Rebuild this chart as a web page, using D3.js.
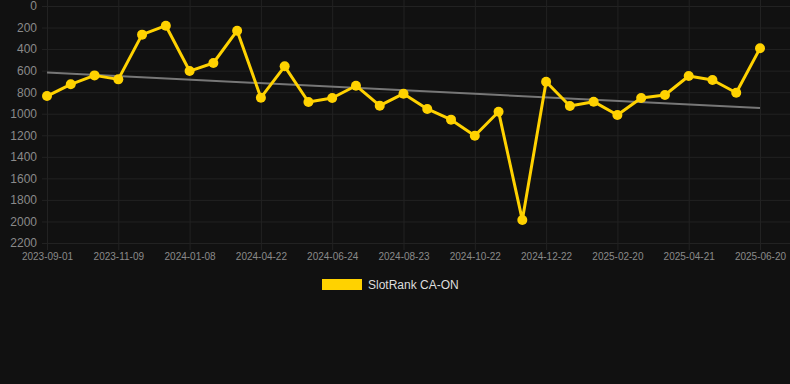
<!DOCTYPE html>
<html>
<head>
<meta charset="utf-8">
<script src="https://cdn.jsdelivr.net/npm/d3@7"></script>
<style>
	html, body { margin: 0; padding: 0; background: #111111; }
	svg { display: block; font-family: "Liberation Sans", Arial, sans-serif; }
</style>
</head>
<body>
<div id="chart"></div>
<script>
// dates of each observation (only every third one is labelled on the axis)
var dates = [
	"2023-09-01", "2023-09-24", "2023-10-17", "2023-11-09", "2023-11-29", "2023-12-19",
	"2024-01-08", "2024-02-11", "2024-03-17", "2024-04-22", "2024-05-13", "2024-06-03",
	"2024-06-24", "2024-07-14", "2024-08-03", "2024-08-23", "2024-09-12", "2024-10-02",
	"2024-10-22", "2024-11-11", "2024-12-01", "2024-12-22", "2025-01-11", "2025-01-31",
	"2025-02-20", "2025-03-12", "2025-04-01", "2025-04-21", "2025-05-11", "2025-05-31",
	"2025-06-20"
];
// rank values (lower is better, axis is reversed)
var ranks = [
	836, 727, 644, 681, 266, 183, 604, 529, 229, 851, 560, 891, 854, 740, 925, 814,
	956, 1055, 1204, 981, 1987, 703, 928, 888, 1012, 854, 826, 650, 687, 805, 393
];
var yTicks = [0, 200, 400, 600, 800, 1000, 1200, 1400, 1600, 1800, 2000, 2200];
var seriesName = "SlotRank CA-ON";

var W = 790, H = 384;
var svg = d3.select("#chart").append("svg")
	.attr("width", W)
	.attr("height", H);

var x = d3.scalePoint()
	.domain(dates)
	.range([47, 760]);
var y = d3.scaleLinear()
	.domain([0, 2200])
	.range([6, 243]);

// grid
var grid = svg.append("g");
grid.selectAll("line.h")
	.data(yTicks)
	.enter().append("line")
	.attr("x1", 42).attr("x2", W)
	.attr("y1", function(d) { return y(d) + 0.5; })
	.attr("y2", function(d) { return y(d) + 0.5; })
	.attr("stroke", "#222")
	.attr("stroke-width", 1);

var labelled = dates.filter(function(d, i) { return i % 3 == 0; });
grid.selectAll("line.v")
	.data(labelled)
	.enter().append("line")
	.attr("x1", function(d) { return x(d) + 0.5; })
	.attr("x2", function(d) { return x(d) + 0.5; })
	.attr("y1", 0).attr("y2", 250)
	.attr("stroke", "#222")
	.attr("stroke-width", 1);

// y axis labels
var yAxis = svg.append("g")
	.attr("transform", "translate(37,0)")
	.call(d3.axisLeft(y).tickValues(yTicks).tickFormat(d3.format("d")).tickSize(0).tickPadding(0));
yAxis.select(".domain").remove();
yAxis.selectAll("text")
	.attr("fill", "#8a8a8a")
	.style("font-size", "12px")
	.style("font-family", "Liberation Sans, Arial, sans-serif");

// x axis labels
var xAxis = svg.append("g")
	.attr("transform", "translate(0,253)")
	.call(d3.axisBottom(x).tickValues(labelled).tickSize(0).tickPadding(0));
xAxis.select(".domain").remove();
xAxis.selectAll("text")
	.attr("fill", "#8a8a8a")
	.style("font-size", "10px")
	.style("font-family", "Liberation Sans, Arial, sans-serif");

// linear trend of ranks over index
var n = ranks.length;
var mx = d3.mean(d3.range(n)), my = d3.mean(ranks);
var sxy = d3.sum(ranks, function(v, i) { return (i - mx) * (v - my); });
var sxx = d3.sum(d3.range(n), function(i) { return (i - mx) * (i - mx); });
var slope = sxy / sxx, icpt = my - slope * mx;

svg.append("line")
	.attr("x1", x(dates[0]))
	.attr("y1", y(icpt))
	.attr("x2", x(dates[n - 1]))
	.attr("y2", y(icpt + slope * (n - 1)))
	.attr("stroke", "#777")
	.attr("stroke-width", 2);

// series line
var line = d3.line()
	.x(function(d, i) { return x(dates[i]); })
	.y(function(d) { return y(d); });

svg.append("path")
	.datum(ranks)
	.attr("d", line)
	.attr("fill", "none")
	.attr("stroke", "#FFD200")
	.attr("stroke-width", 3)
	.attr("stroke-linejoin", "round");

svg.selectAll("circle.pt")
	.data(ranks)
	.enter().append("circle")
	.attr("cx", function(d, i) { return x(dates[i]); })
	.attr("cy", function(d) { return y(d); })
	.attr("r", 5)
	.attr("fill", "#FFD200");

// legend
var legend = svg.append("g").attr("transform", "translate(322,279)");
legend.append("rect")
	.attr("width", 40).attr("height", 11)
	.attr("fill", "#FFD200");
legend.append("text")
	.attr("x", 46).attr("y", 6)
	.attr("dy", "0.35em")
	.attr("fill", "#dddddd")
	.style("font-size", "12px")
	.text(seriesName);
</script>
</body>
</html>
